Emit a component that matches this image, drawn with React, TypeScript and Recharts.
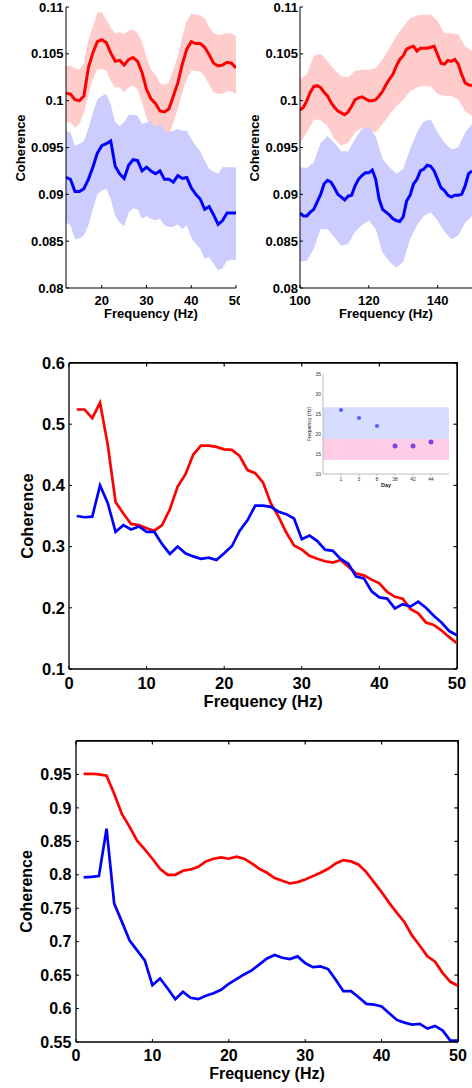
import React from 'react';
import {
  ComposedChart,
  Line,
  Area,
  XAxis,
  YAxis,
  Label,
  ReferenceLine,
  ScatterChart,
  Scatter,
  ReferenceArea,
} from 'recharts';

const FONT = '"Liberation Sans", Arial, Helvetica, sans-serif';
const RED = '#ff0000';
const BLUE = '#0000ff';
const RED_BAND = '#ffcccc';
const BLUE_BAND = '#ccccff';

// ---------- Panel A (top-left): 12–50 Hz ----------
const freqA = [12, 13, 14, 15, 16, 17, 18, 19, 20, 21, 22, 23, 24, 25, 26, 27, 28, 29, 30, 31, 32, 33, 34, 35, 36, 37, 38, 39, 40, 41, 42, 43, 44, 45, 46, 47, 48, 49, 50];
const redA = [0.1008, 0.1007, 0.1001, 0.1000, 0.1005, 0.1035, 0.1051, 0.1063, 0.1065, 0.1062, 0.1051, 0.1042, 0.1043, 0.1038, 0.1044, 0.1046, 0.1042, 0.1030, 0.1012, 0.1002, 0.0997, 0.0989, 0.0988, 0.0991, 0.1005, 0.1019, 0.1039, 0.1055, 0.1063, 0.1061, 0.1061, 0.1057, 0.1049, 0.1040, 0.1037, 0.1038, 0.1041, 0.1040, 0.1035];
const redHiA = [0.1037, 0.1037, 0.1035, 0.1033, 0.1040, 0.1065, 0.1079, 0.1094, 0.1094, 0.1087, 0.1078, 0.1072, 0.1073, 0.1071, 0.1075, 0.1076, 0.1072, 0.1063, 0.1046, 0.1033, 0.1028, 0.1019, 0.1017, 0.1019, 0.1033, 0.1048, 0.1069, 0.1085, 0.1093, 0.1092, 0.1091, 0.1088, 0.1079, 0.1072, 0.1070, 0.1071, 0.1072, 0.1072, 0.1069];
const redLoA = [0.0977, 0.0977, 0.0971, 0.0975, 0.0987, 0.1005, 0.1023, 0.1033, 0.1034, 0.1032, 0.1021, 0.1014, 0.1014, 0.1009, 0.1014, 0.1016, 0.1012, 0.0998, 0.0982, 0.0971, 0.0966, 0.0959, 0.0959, 0.0962, 0.0977, 0.0991, 0.1009, 0.1023, 0.1032, 0.1032, 0.1031, 0.1026, 0.1017, 0.1009, 0.1007, 0.1007, 0.1010, 0.1010, 0.1007];
const blueA = [0.0918, 0.0916, 0.0903, 0.0903, 0.0906, 0.0916, 0.0929, 0.0944, 0.0952, 0.0954, 0.0957, 0.0930, 0.0922, 0.0917, 0.0931, 0.0937, 0.0936, 0.0925, 0.0929, 0.0925, 0.0922, 0.0925, 0.0916, 0.0916, 0.0913, 0.0920, 0.0917, 0.0918, 0.0907, 0.0900, 0.0895, 0.0884, 0.0887, 0.0878, 0.0868, 0.0872, 0.0880, 0.0880, 0.0880];
const blueHiA = [0.0968, 0.0966, 0.0952, 0.0954, 0.0957, 0.0970, 0.0987, 0.1001, 0.1005, 0.1007, 0.0996, 0.0977, 0.0973, 0.0977, 0.0985, 0.0985, 0.0984, 0.0975, 0.0977, 0.0978, 0.0971, 0.0975, 0.0968, 0.0966, 0.0968, 0.0970, 0.0968, 0.0968, 0.0959, 0.0952, 0.0946, 0.0936, 0.0927, 0.0924, 0.0922, 0.0929, 0.0929, 0.0929, 0.0929];
const blueLoA = [0.0870, 0.0867, 0.0852, 0.0853, 0.0856, 0.0867, 0.0884, 0.0900, 0.0904, 0.0906, 0.0895, 0.0877, 0.0870, 0.0866, 0.0881, 0.0885, 0.0884, 0.0874, 0.0877, 0.0874, 0.0872, 0.0874, 0.0867, 0.0865, 0.0865, 0.0868, 0.0863, 0.0867, 0.0854, 0.0847, 0.0842, 0.0831, 0.0833, 0.0826, 0.0819, 0.0821, 0.0829, 0.0830, 0.0830];
const xTicksA = [20, 30, 40, 50];
const yTicksAB = [0.08, 0.085, 0.09, 0.095, 0.1, 0.105, 0.11];

// ---------- Panel B (top-right): 100–150 Hz ----------
const freqB = [100, 101, 102, 103, 104, 105, 106, 107, 108, 109, 110, 111, 112, 113, 114, 115, 116, 117, 118, 119, 120, 121, 122, 123, 124, 125, 126, 127, 128, 129, 130, 131, 132, 133, 134, 135, 136, 137, 138, 139, 140, 141, 142, 143, 144, 145, 146, 147, 148, 149, 150];
const redB = [0.0990, 0.0993, 0.1000, 0.1009, 0.1015, 0.1016, 0.1014, 0.1009, 0.1005, 0.0998, 0.0993, 0.0989, 0.0987, 0.0985, 0.0988, 0.0994, 0.1001, 0.1003, 0.1004, 0.1002, 0.1000, 0.1000, 0.1001, 0.1005, 0.1010, 0.1017, 0.1023, 0.1028, 0.1037, 0.1044, 0.1048, 0.1055, 0.1057, 0.1058, 0.1053, 0.1056, 0.1056, 0.1056, 0.1057, 0.1058, 0.1049, 0.1040, 0.1039, 0.1043, 0.1042, 0.1044, 0.1039, 0.1028, 0.1019, 0.1017, 0.1016];
const blueB = [0.0880, 0.0877, 0.0877, 0.0881, 0.0884, 0.0892, 0.0900, 0.0911, 0.0915, 0.0913, 0.0907, 0.0900, 0.0897, 0.0894, 0.0898, 0.0899, 0.0909, 0.0916, 0.0920, 0.0923, 0.0923, 0.0926, 0.0916, 0.0895, 0.0884, 0.0881, 0.0878, 0.0874, 0.0872, 0.0871, 0.0876, 0.0893, 0.0899, 0.0911, 0.0916, 0.0925, 0.0927, 0.0931, 0.0930, 0.0925, 0.0916, 0.0907, 0.0904, 0.0899, 0.0897, 0.0899, 0.0899, 0.0900, 0.0909, 0.0922, 0.0925];
const bandFreqB = [100, 102, 104, 106, 108, 110, 112, 114, 116, 118, 120, 122, 124, 126, 128, 130, 132, 134, 136, 138, 140, 142, 144, 146, 148, 150];
const redHiB = [0.1023, 0.1028, 0.1048, 0.1050, 0.1042, 0.1033, 0.1026, 0.1025, 0.1032, 0.1033, 0.1033, 0.1035, 0.1044, 0.1056, 0.1069, 0.1079, 0.1088, 0.1091, 0.1092, 0.1092, 0.1085, 0.1072, 0.1072, 0.1071, 0.1058, 0.1053];
const redLoB = [0.0955, 0.0966, 0.0980, 0.0979, 0.0973, 0.0959, 0.0952, 0.0955, 0.0966, 0.0971, 0.0968, 0.0966, 0.0975, 0.0985, 0.0994, 0.1001, 0.1010, 0.1014, 0.1016, 0.1015, 0.1007, 0.1005, 0.1005, 0.1001, 0.0989, 0.0984];
const blueHiB = [0.0929, 0.0928, 0.0934, 0.0955, 0.0962, 0.0955, 0.0946, 0.0946, 0.0959, 0.0970, 0.0972, 0.0962, 0.0938, 0.0929, 0.0922, 0.0927, 0.0948, 0.0966, 0.0978, 0.0980, 0.0966, 0.0955, 0.0948, 0.0950, 0.0966, 0.0975];
const blueLoB = [0.0828, 0.0829, 0.0842, 0.0863, 0.0863, 0.0854, 0.0845, 0.0847, 0.0860, 0.0867, 0.0872, 0.0863, 0.0838, 0.0828, 0.0822, 0.0828, 0.0852, 0.0867, 0.0877, 0.0881, 0.0872, 0.0860, 0.0852, 0.0856, 0.0870, 0.0877];
const xTicksB = [100, 120, 140];

// ---------- Panel C (middle): 1–50 Hz ----------
const freqCD = [1, 2, 3, 4, 5, 6, 7, 8, 9, 10, 11, 12, 13, 14, 15, 16, 17, 18, 19, 20, 21, 22, 23, 24, 25, 26, 27, 28, 29, 30, 31, 32, 33, 34, 35, 36, 37, 38, 39, 40, 41, 42, 43, 44, 45, 46, 47, 48, 49, 50];
const redC = [0.524, 0.524, 0.510, 0.535, 0.466, 0.373, 0.354, 0.337, 0.335, 0.330, 0.326, 0.335, 0.361, 0.398, 0.418, 0.450, 0.465, 0.465, 0.463, 0.459, 0.458, 0.448, 0.425, 0.420, 0.405, 0.371, 0.349, 0.323, 0.302, 0.295, 0.285, 0.280, 0.276, 0.274, 0.278, 0.267, 0.256, 0.253, 0.246, 0.240, 0.226, 0.218, 0.215, 0.198, 0.191, 0.176, 0.172, 0.163, 0.152, 0.142];
const blueC = [0.350, 0.348, 0.349, 0.400, 0.371, 0.324, 0.335, 0.328, 0.333, 0.324, 0.324, 0.304, 0.288, 0.300, 0.289, 0.284, 0.280, 0.282, 0.278, 0.289, 0.301, 0.326, 0.343, 0.367, 0.367, 0.365, 0.357, 0.353, 0.346, 0.312, 0.318, 0.309, 0.295, 0.293, 0.280, 0.272, 0.251, 0.248, 0.227, 0.217, 0.215, 0.199, 0.206, 0.202, 0.210, 0.200, 0.187, 0.176, 0.162, 0.155];
const xTicksCD = [0, 10, 20, 30, 40, 50];
const yTicksC = [0.1, 0.2, 0.3, 0.4, 0.5, 0.6];

// ---------- Inset ----------
const dayIndex = [1, 2, 3, 4, 5, 6];
const dayLabels = ['1', '3', '8', '38', '42', '44'];
const peakFreq = [26, 24, 22, 17, 17, 18];
const insetYTicks = [10, 15, 20, 25, 30, 35];
const betaHighBand = [18.75, 26.7];
const betaLowBand = [13.5, 18.75];

// ---------- Panel D (bottom) ----------
const redD = [0.951, 0.951, 0.950, 0.948, 0.921, 0.891, 0.872, 0.851, 0.838, 0.824, 0.809, 0.800, 0.800, 0.806, 0.808, 0.812, 0.820, 0.824, 0.826, 0.824, 0.827, 0.824, 0.817, 0.809, 0.803, 0.795, 0.791, 0.787, 0.789, 0.793, 0.798, 0.803, 0.809, 0.817, 0.822, 0.820, 0.815, 0.804, 0.789, 0.774, 0.758, 0.743, 0.729, 0.709, 0.694, 0.678, 0.670, 0.653, 0.640, 0.634];
const blueD = [0.796, 0.797, 0.798, 0.869, 0.757, 0.730, 0.702, 0.687, 0.672, 0.635, 0.645, 0.630, 0.614, 0.625, 0.616, 0.614, 0.619, 0.623, 0.628, 0.637, 0.644, 0.651, 0.657, 0.666, 0.675, 0.680, 0.676, 0.674, 0.678, 0.668, 0.662, 0.663, 0.659, 0.643, 0.626, 0.626, 0.617, 0.607, 0.606, 0.603, 0.593, 0.583, 0.579, 0.576, 0.577, 0.570, 0.574, 0.567, 0.552, 0.552];
const yTicksD = [0.55, 0.6, 0.65, 0.7, 0.75, 0.8, 0.85, 0.9, 0.95];

// ---------- derived tables ----------
const rowsA = freqA.map((f, i) => ({
  f,
  red: redA[i],
  blue: blueA[i],
  redBand: [redLoA[i], redHiA[i]],
  blueBand: [blueLoA[i], blueHiA[i]],
}));
const lineRowsB = freqB.map((f, i) => ({ f, red: redB[i], blue: blueB[i] }));
const bandRowsB = bandFreqB.map((f, i) => ({
  f,
  redBand: [redLoB[i], redHiB[i]],
  blueBand: [blueLoB[i], blueHiB[i]],
}));
const rowsC = freqCD.map((f, i) => ({ f, red: redC[i], blue: blueC[i] }));
const rowsD = freqCD.map((f, i) => ({ f, red: redD[i], blue: blueD[i] }));
const insetRows = dayIndex.map((x, i) => ({ x, y: peakFreq[i] }));
const insetEarly = insetRows.slice(0, 3);
const insetLate = insetRows.slice(3);

const fmt = (v: number) => String(v);

type TitleProps = { x: number; y: number; size: number; text: string; rotate?: boolean; weight?: string; fill?: string };
const Title = ({ x, y, size, text, rotate, weight = 'bold', fill = '#000' }: TitleProps) => (
  <text
    x={x}
    y={y}
    textAnchor="middle"
    dominantBaseline="central"
    transform={rotate ? `rotate(-90 ${x} ${y})` : undefined}
    fontFamily={FONT}
    fontWeight={weight}
    fontSize={size}
    fill={fill}
  >
    {text}
  </text>
);

const tickStyle = (size: number) => ({ fill: '#000', fontSize: size, fontWeight: 'bold', fontFamily: FONT });

function PanelA() {
  return (
    <ComposedChart width={240} height={330} data={rowsA} margin={{ top: 7, right: 4, bottom: 12, left: 6 }}>
      <XAxis
        dataKey="f"
        type="number"
        domain={[12, 50]}
        ticks={xTicksA}
        interval={0}
        allowDataOverflow
        height={30}
        stroke="#000"
        tickSize={-3}
        tickMargin={10.5}
        tick={tickStyle(13)}
        tickFormatter={fmt}
      >
        <Label content={() => <Title x={151} y={313.8} size={13} text="Frequency (Hz)" />} />
      </XAxis>
      <YAxis
        type="number"
        domain={[0.08, 0.11]}
        ticks={yTicksAB}
        interval={0}
        allowDataOverflow
        width={60}
        stroke="#000"
        tickSize={-3}
        tickMargin={5.4}
        tick={tickStyle(13)}
        tickFormatter={fmt}
      >
        <Label content={() => <Title x={20} y={148} size={13} text="Coherence" rotate />} />
      </YAxis>
      <Area dataKey="redBand" type="linear" stroke="none" fill={RED_BAND} fillOpacity={1} isAnimationActive={false} dot={false} activeDot={false} />
      <Area dataKey="blueBand" type="linear" stroke="none" fill={BLUE_BAND} fillOpacity={1} isAnimationActive={false} dot={false} activeDot={false} />
      <Line dataKey="red" type="linear" stroke={RED} strokeWidth={3} dot={false} activeDot={false} isAnimationActive={false} />
      <Line dataKey="blue" type="linear" stroke={BLUE} strokeWidth={3} dot={false} activeDot={false} isAnimationActive={false} />
    </ComposedChart>
  );
}

function PanelB() {
  return (
    <ComposedChart width={236} height={330} margin={{ top: 7, right: 0, bottom: 12, left: 4 }}>
      <XAxis
        dataKey="f"
        type="number"
        domain={[100, 150]}
        ticks={xTicksB}
        interval={0}
        allowDataOverflow
        height={30}
        stroke="#000"
        tickSize={-3}
        tickMargin={10.5}
        tick={tickStyle(13)}
        tickFormatter={fmt}
      >
        <Label content={() => <Title x={150} y={313.8} size={13} text="Frequency (Hz)" />} />
      </XAxis>
      <YAxis
        type="number"
        domain={[0.08, 0.11]}
        ticks={yTicksAB}
        interval={0}
        allowDataOverflow
        width={60}
        stroke="#000"
        tickSize={-3}
        tickMargin={5}
        tick={tickStyle(13)}
        tickFormatter={fmt}
      >
        <Label content={() => <Title x={18.3} y={148} size={13} text="Coherence" rotate />} />
      </YAxis>
      <Area data={bandRowsB} dataKey="redBand" type="linear" stroke="none" fill={RED_BAND} fillOpacity={1} isAnimationActive={false} dot={false} activeDot={false} />
      <Area data={bandRowsB} dataKey="blueBand" type="linear" stroke="none" fill={BLUE_BAND} fillOpacity={1} isAnimationActive={false} dot={false} activeDot={false} />
      <Line data={lineRowsB} dataKey="red" type="linear" stroke={RED} strokeWidth={3} dot={false} activeDot={false} isAnimationActive={false} />
      <Line data={lineRowsB} dataKey="blue" type="linear" stroke={BLUE} strokeWidth={3} dot={false} activeDot={false} isAnimationActive={false} />
    </ComposedChart>
  );
}

type BoxProps = {
  rows: any[];
  width: number;
  height: number;
  margin: { top: number; right: number; bottom: number; left: number };
  yDomain: [number, number];
  yTicks: number[];
  xHeight: number;
  yWidth: number;
  font: number;
  xTickMargin: number;
  yTickMargin: number;
  xTitle: { x: number; y: number };
  yTitle: { x: number; y: number };
};

function BoxPanel(p: BoxProps) {
  const axisLine = { stroke: '#000', strokeWidth: 1.3 };
  const plotLeft = p.margin.left + p.yWidth;
  const plotTop = p.margin.top;
  const plotRight = p.width - p.margin.right;
  const plotBottom = p.height - p.margin.bottom - p.xHeight;
  // bottom tick label + mirrored inward tick mark on the top edge
  const XTick = (t: any) => (
    <g>
      <line x1={t.x} x2={t.x} y1={plotTop} y2={plotTop + 3.5} stroke="#000" strokeWidth={1.2} />
      <text x={t.x} y={t.y} dy="0.71em" textAnchor="middle" fontFamily={FONT} fontWeight="bold" fontSize={p.font} fill="#000">
        {fmt(t.payload.value)}
      </text>
    </g>
  );
  // left tick label + mirrored inward tick mark on the right edge
  const YTick = (t: any) => (
    <g>
      <line x1={plotRight - 3.5} x2={plotRight} y1={t.y} y2={t.y} stroke="#000" strokeWidth={1.2} />
      <text x={t.x} y={t.y} dy="0.355em" textAnchor="end" fontFamily={FONT} fontWeight="bold" fontSize={p.font} fill="#000">
        {fmt(t.payload.value)}
      </text>
    </g>
  );
  return (
    <div style={{ position: 'relative', width: p.width, height: p.height }}>
      <ComposedChart width={p.width} height={p.height} data={p.rows} margin={p.margin}>
        <XAxis
          dataKey="f"
          type="number"
          domain={[0, 50]}
          ticks={xTicksCD}
          interval={0}
          allowDataOverflow
          height={p.xHeight}
          stroke="#000"
          axisLine={axisLine}
          tickSize={-3}
          tickMargin={p.xTickMargin}
          tick={XTick}
        >
          <Label content={() => <Title x={p.xTitle.x} y={p.xTitle.y} size={p.font} text="Frequency (Hz)" />} />
        </XAxis>
        <YAxis
          type="number"
          domain={p.yDomain}
          ticks={p.yTicks}
          interval={0}
          allowDataOverflow
          width={p.yWidth}
          stroke="#000"
          axisLine={axisLine}
          tickSize={-3}
          tickMargin={p.yTickMargin}
          tick={YTick}
        >
          <Label content={() => <Title x={p.yTitle.x} y={p.yTitle.y} size={p.font} text="Coherence" rotate />} />
        </YAxis>
        <ReferenceLine y={p.yDomain[1]} stroke="#000" strokeWidth={1.3} ifOverflow="visible" />
        <ReferenceLine x={50} stroke="#000" strokeWidth={1.3} ifOverflow="visible" />
        <Line dataKey="red" type="linear" stroke={RED} strokeWidth={2.7} dot={false} activeDot={false} isAnimationActive={false} />
        <Line dataKey="blue" type="linear" stroke={BLUE} strokeWidth={2.7} dot={false} activeDot={false} isAnimationActive={false} />
      </ComposedChart>
      {/* frame: top and right edges of the axes box */}
      <div
        style={{
          position: 'absolute',
          left: plotLeft,
          top: plotTop - 0.75,
          width: plotRight - plotLeft + 0.75,
          height: plotBottom - plotTop + 0.75,
          borderTop: '1.5px solid #000',
          borderRight: '1.5px solid #000',
          boxSizing: 'border-box',
          pointerEvents: 'none',
        }}
      />
    </div>
  );
}

function Inset() {
  const tick5 = { fill: '#333', fontSize: 5, fontFamily: FONT };
  return (
    <ScatterChart width={160} height={130} margin={{ top: 9, right: 11, bottom: 7, left: 7 }}>
      <ReferenceArea y1={betaHighBand[0]} y2={betaHighBand[1]} fill="#d6ddff" fillOpacity={1} stroke="none" />
      <ReferenceArea y1={betaLowBand[0]} y2={betaLowBand[1]} fill="#ffcce6" fillOpacity={1} stroke="none" />
      <XAxis
        dataKey="x"
        type="number"
        domain={[0, 7]}
        ticks={dayIndex}
        interval={0}
        allowDataOverflow
        height={14}
        stroke="#bbb"
        tickSize={2}
        tickMargin={1}
        tick={tick5}
        tickFormatter={(v: number) => dayLabels[v - 1]}
      >
        <Label content={() => <Title x={86} y={120} size={5.5} text="Day" fill="#222" />} />
      </XAxis>
      <YAxis
        dataKey="y"
        type="number"
        domain={[10, 35]}
        ticks={insetYTicks}
        interval={0}
        allowDataOverflow
        width={16}
        stroke="#bbb"
        tickLine={false}
        tickSize={0}
        tickMargin={2}
        tick={tick5}
      >
        <Label content={() => <Title x={9.3} y={59} size={5} text="Frequency (Hz)" rotate weight="normal" fill="#222" />} />
      </YAxis>
      <Scatter
        data={insetEarly}
        isAnimationActive={false}
        shape={(s: any) => <circle cx={s.cx} cy={s.cy} r={2.1} fill="#5c5cff" />}
      />
      <Scatter
        data={insetLate}
        isAnimationActive={false}
        shape={(s: any) => <circle cx={s.cx} cy={s.cy} r={2.5} fill="#7a40ea" />}
      />
    </ScatterChart>
  );
}

export default function App() {
  return (
    <div style={{ position: 'absolute', left: 0, top: 0, width: 472, height: 1088, background: '#fff', overflow: 'hidden' }}>
      <div style={{ position: 'absolute', left: 0, top: 0 }}>
        <PanelA />
      </div>
      <div style={{ position: 'absolute', left: 236, top: 0 }}>
        <PanelB />
      </div>
      <div style={{ position: 'absolute', left: 0, top: 340 }}>
        <BoxPanel
          rows={rowsC}
          width={472}
          height={380}
          margin={{ top: 23, right: 15, bottom: 11, left: 9 }}
          yDomain={[0.1, 0.6]}
          yTicks={yTicksC}
          xHeight={40}
          yWidth={60}
          font={16.5}
          xTickMargin={11}
          yTickMargin={7}
          xTitle={{ x: 263.2, y: 361 }}
          yTitle={{ x: 26.7, y: 176 }}
        />
      </div>
      <div style={{ position: 'absolute', left: 300, top: 365 }}>
        <Inset />
      </div>
      <div style={{ position: 'absolute', left: 0, top: 730 }}>
        <BoxPanel
          rows={rowsD}
          width={472}
          height={358}
          margin={{ top: 11, right: 14, bottom: 10, left: 10 }}
          yDomain={[0.55, 1.0]}
          yTicks={yTicksD}
          xHeight={36}
          yWidth={66}
          font={16}
          xTickMargin={10.7}
          yTickMargin={7.6}
          xTitle={{ x: 267, y: 343.3 }}
          yTitle={{ x: 26, y: 161.5 }}
        />
      </div>
    </div>
  );
}
